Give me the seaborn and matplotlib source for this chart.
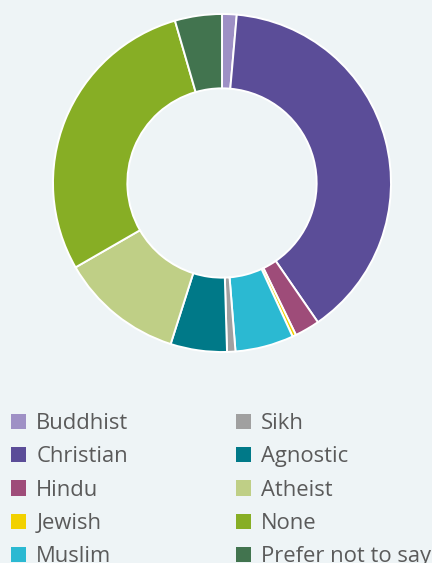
import matplotlib
matplotlib.use("Agg")
import seaborn as sns
import matplotlib.pyplot as plt
from matplotlib.patches import Patch

religions = ["Buddhist", "Christian", "Hindu", "Jewish", "Muslim",
             "Sikh", "Agnostic", "Atheist", "None", "Prefer not to say"]
shares = [1.4, 39.1, 2.4, 0.35, 5.6, 0.8, 5.4, 11.8, 28.9, 4.5]
colours = ["#9E90C5", "#5B4D98", "#9E4C79", "#F2D100", "#2BB9D2",
           "#A0A0A0", "#007988", "#BFCF86", "#87AE25", "#42744F"]

bg = "#EEF4F6"
sns.set_theme(style="white", rc={"figure.facecolor": bg, "axes.facecolor": bg})
plt.rcParams["font.family"] = ["Open Sans", "DejaVu Sans"]

W, H = 432, 563
fig = plt.figure(figsize=(W / 100, H / 100), dpi=100)
cx, cy, r = 222, 183, 169
ax = fig.add_axes([(cx - r) / W, (H - cy - r) / H, 2 * r / W, 2 * r / H])

ax.pie(shares, colors=colours, startangle=90, counterclock=False,
       wedgeprops=dict(width=0.44, edgecolor="white", linewidth=1.4))
ax.set_xlim(-1, 1)
ax.set_ylim(-1, 1)
ax.set_aspect("equal")
ax.axis("off")

# two legend columns, five entries each
handles = [Patch(facecolor=c, edgecolor="none") for c in colours]
for i, x0 in enumerate([11, 236]):
    fig.legend(handles[i * 5:(i + 1) * 5], religions[i * 5:(i + 1) * 5],
               loc="upper left", bbox_to_anchor=(x0 / W, 1 - 413 / H),
               frameon=False, fontsize=15.84, labelcolor="#5A5A5A",
               handlelength=0.7, handleheight=0.7, handletextpad=0.45,
               labelspacing=0.56, borderpad=0, borderaxespad=0)

fig.savefig("out.png", dpi=100, facecolor=bg)
